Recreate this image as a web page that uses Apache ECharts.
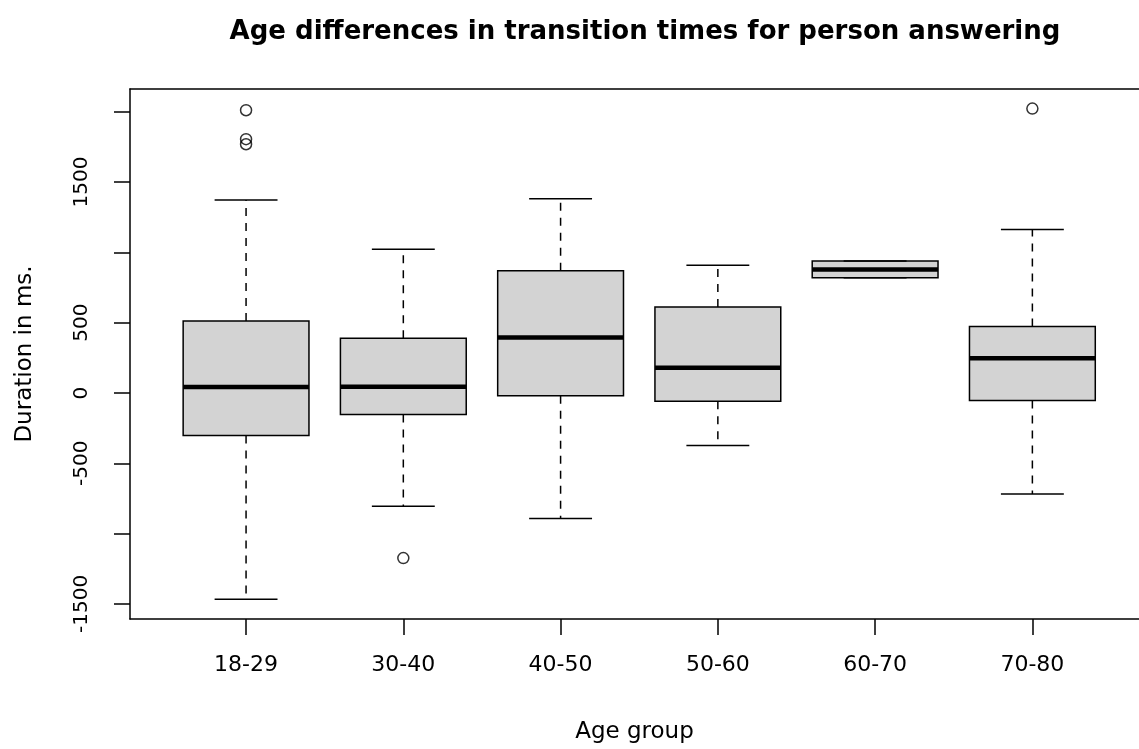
<!DOCTYPE html>
<html>
<head>
<meta charset="utf-8">
<title>Age differences in transition times</title>
<script src="https://cdn.jsdelivr.net/npm/echarts@6/dist/echarts.min.js"></script>
<style>
  html, body { margin: 0; padding: 0; background: #fff; }
  #chart { width: 1139px; height: 749px; }
</style>
</head>
<body>
<div id="chart"></div>
<script>
// age groups on the x axis (drawn at positions 1..6, like R's boxplot)
var categories = ['18-29', '30-40', '40-50', '50-60', '60-70', '70-80'];

// five number summary per group (ms)
var whiskerLow  = [-1467, -805, -892, -373, 820, -718];
var lowerQuart  = [-302, -152, -20, -58, 820, -54];
var medians     = [43, 45, 395, 179, 879, 247];
var upperQuart  = [513, 390, 870, 612, 938, 473];
var whiskerHigh = [1373, 1022, 1382, 908, 938, 1163];

// outliers: group position + value
var outlierGroup = [1, 1, 1, 2, 6];
var outlierValue = [2011, 1805, 1769, -1174, 2023];

// y axis ticks and the labels R actually printed
var yTicks  = [-1500, -1000, -500, 0, 500, 1000, 1500, 2000];
var yLabels = [-1500, -500, 0, 500, 1500];
var xTicks  = [1, 2, 3, 4, 5, 6];

var font = 'DejaVu Sans';

var boxData = [];
for (var i = 0; i < categories.length; i++) {
  boxData.push([i + 1, whiskerLow[i], lowerQuart[i], medians[i], upperQuart[i], whiskerHigh[i]]);
}
var outlierData = [];
for (var j = 0; j < outlierGroup.length; j++) {
  outlierData.push([outlierGroup[j], outlierValue[j]]);
}

function renderBox(params, api) {
  var x = api.value(0);
  var lo = api.coord([x, api.value(1)])[1];
  var q1 = api.coord([x, api.value(2)])[1];
  var md = api.coord([x, api.value(3)])[1];
  var q3 = api.coord([x, api.value(4)])[1];
  var hi = api.coord([x, api.value(5)])[1];
  var cx = api.coord([x, 0])[0];
  var bl = api.coord([x - 0.4, 0])[0];
  var br = api.coord([x + 0.4, 0])[0];
  var sl = api.coord([x - 0.2, 0])[0];
  var sr = api.coord([x + 0.2, 0])[0];
  var dash = { stroke: '#000', lineWidth: 1.5, lineDash: [8, 7] };
  var solid = { stroke: '#000', lineWidth: 1.5 };
  return {
    type: 'group',
    children: [
      // whiskers
      { type: 'line', shape: { x1: cx, y1: q3, x2: cx, y2: hi }, style: dash },
      { type: 'line', shape: { x1: cx, y1: q1, x2: cx, y2: lo }, style: dash },
      // box
      { type: 'rect', shape: { x: bl, y: q3, width: br - bl, height: q1 - q3 },
        style: { fill: '#d3d3d3', stroke: '#000', lineWidth: 1.5 } },
      // median
      { type: 'line', shape: { x1: bl, y1: md, x2: br, y2: md }, style: { stroke: '#000', lineWidth: 4.5 } },
      // staples
      { type: 'line', shape: { x1: sl, y1: hi, x2: sr, y2: hi }, style: solid },
      { type: 'line', shape: { x1: sl, y1: lo, x2: sr, y2: lo }, style: solid }
    ]
  };
}

var myChart = echarts.init(document.getElementById('chart'), null, { renderer: 'canvas' });

// the R plot region runs past the right edge of the picture, so the
// visible part of the x range stops at 6.678 instead of 6.74
var xMin = 0.262, xMax = 6.678;

var option = {
  backgroundColor: '#fff',
  animation: false,
  title: {
    text: 'Age differences in transition times for person answering',
    left: 640,
    top: 14,
    textAlign: 'center',
    textStyle: { fontFamily: font, fontSize: 26, fontWeight: 'bold', color: '#000' }
  },
  grid: { left: 130, top: 89, right: 0, bottom: 124.7 },
  xAxis: [{
    type: 'value',
    min: xMin,
    max: xMax,
    position: 'bottom',
    name: 'Age group',
    nameLocation: 'middle',
    nameGap: 102,
    nameTextStyle: { fontFamily: font, fontSize: 23, color: '#000' },
    splitLine: { show: false },
    axisLine: { show: true, onZero: false, lineStyle: { color: '#000', width: 1.5 } },
    axisTick: { show: true, length: 16, customValues: xTicks, lineStyle: { color: '#000', width: 1.5 } },
    axisLabel: {
      customValues: xTicks,
      margin: 35,
      fontFamily: font,
      fontSize: 22,
      color: '#000',
      formatter: function (v) { return categories[Math.round(v) - 1]; }
    }
  }, {
    // top edge of the frame
    type: 'value',
    min: xMin,
    max: xMax,
    position: 'top',
    splitLine: { show: false },
    axisLine: { show: true, onZero: false, lineStyle: { color: '#000', width: 1.5 } },
    axisTick: { show: false },
    axisLabel: { show: false }
  }],
  yAxis: {
    type: 'value',
    min: -1607,
    max: 2162,
    name: 'Duration in ms.',
    nameLocation: 'middle',
    nameGap: 93,
    nameTextStyle: { fontFamily: font, fontSize: 23, color: '#000' },
    splitLine: { show: false },
    axisLine: { show: true, onZero: false, lineStyle: { color: '#000', width: 1.5 } },
    axisTick: { show: true, length: 16, customValues: yTicks, lineStyle: { color: '#000', width: 1.5 } },
    axisLabel: {
      customValues: yLabels,
      rotate: 90,
      margin: 38,
      fontFamily: font,
      fontSize: 20,
      color: '#000',
      formatter: function (v) { return String(v); }
    }
  },
  series: [{
    type: 'custom',
    renderItem: renderBox,
    encode: { x: 0, y: [1, 2, 3, 4, 5] },
    data: boxData,
    z: 2
  }, {
    type: 'scatter',
    symbol: 'circle',
    symbolSize: 11,
    itemStyle: { color: 'rgba(0,0,0,0)', borderColor: '#000', borderWidth: 1.5 },
    data: outlierData,
    z: 3
  }]
};

myChart.setOption(option);
</script>
</body>
</html>
